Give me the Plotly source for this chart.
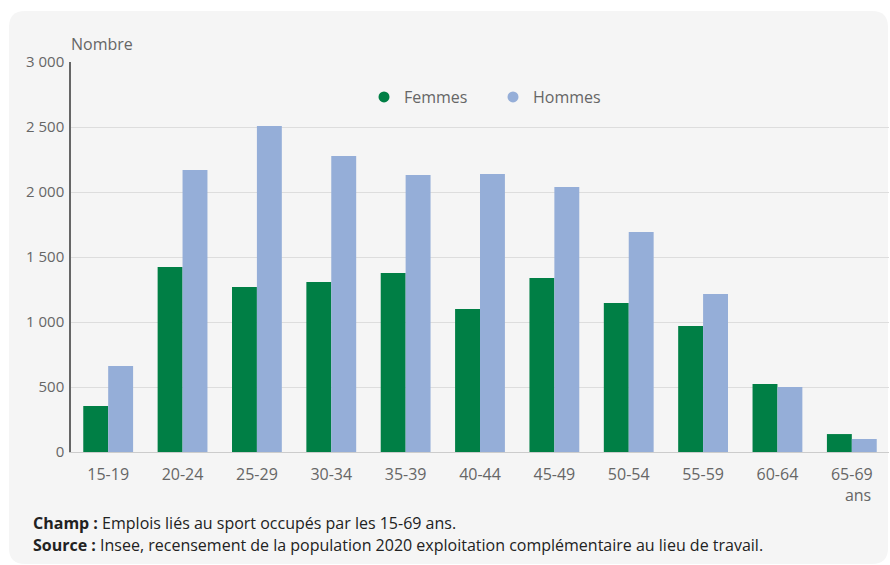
import plotly.graph_objects as go

categories = ["15-19", "20-24", "25-29", "30-34", "35-39", "40-44",
              "45-49", "50-54", "55-59", "60-64", "65-69"]
tick_labels = ["15-19", "20-24", "25-29", "30-34", "35-39", "40-44",
               "45-49", "50-54", "55-59", "60-64", "65-69<br>\u00a0\u00a0\u00a0ans"]
femmes = [354, 1423, 1269, 1308, 1377, 1100, 1338, 1146, 969, 523, 138]
hommes = [661, 2169, 2508, 2277, 2131, 2138, 2038, 1692, 1215, 500, 100]
y_ticks = [0, 500, 1000, 1500, 2000, 2500, 3000]

W, H = 890, 565
L, R, T, B = 71, 1, 62, 113
PW, PH = W - L - R, H - T - B

def px(x):
    return (x - L) / PW

def py(y):
    return (H - B - y) / PH

GREEN = "#007f45"
BLUE = "#95aed8"
FONT = "Open Sans"

fig = go.Figure()
fig.add_trace(go.Bar(x=categories, y=femmes, name="Femmes", marker_color=GREEN,
                     marker_line_width=0, showlegend=False))
fig.add_trace(go.Bar(x=categories, y=hommes, name="Hommes", marker_color=BLUE,
                     marker_line_width=0, showlegend=False))
fig.add_trace(go.Scatter(x=[None], y=[None], mode="markers", name="Femmes",
                         marker=dict(color=GREEN, size=11, symbol="circle")))
fig.add_trace(go.Scatter(x=[None], y=[None], mode="markers", name="Hommes",
                         marker=dict(color=BLUE, size=11, symbol="circle")))

# rounded grey panel
x0, x1, y0, y1 = px(9), px(888), py(564), py(11)
rx, ry = 16 / PW, 16 / PH
path = (f"M {x0+rx},{y1} L {x1-rx},{y1} Q {x1},{y1} {x1},{y1-ry} "
        f"L {x1},{y0+ry} Q {x1},{y0} {x1-rx},{y0} L {x0+rx},{y0} "
        f"Q {x0},{y0} {x0},{y0+ry} L {x0},{y1-ry} Q {x0},{y1} {x0+rx},{y1} Z")
fig.add_shape(type="path", path=path, xref="paper", yref="paper",
              fillcolor="#f5f5f5", line=dict(width=0), layer="below")

fig.add_annotation(text="Nombre", x=px(69), y=py(44), xref="paper", yref="paper",
                   xanchor="left", yanchor="middle", showarrow=False,
                   font=dict(family=FONT, size=16, color="#666666"))
fig.add_annotation(text="<b>Champ :</b> Emplois liés au sport occupés par les 15-69 ans.",
                   x=px(31), y=py(523), xref="paper", yref="paper",
                   xanchor="left", yanchor="middle", showarrow=False,
                   font=dict(family=FONT, size=16, color="#222222"))
fig.add_annotation(text="<b>Source :</b> Insee, recensement de la population 2020 exploitation complémentaire au lieu de travail.",
                   x=px(31), y=py(545), xref="paper", yref="paper",
                   xanchor="left", yanchor="middle", showarrow=False,
                   font=dict(family=FONT, size=16, color="#222222"))

fig.update_layout(
    width=W, height=H,
    margin=dict(l=L, r=R, t=T, b=B),
    paper_bgcolor="white", plot_bgcolor="rgba(0,0,0,0)",
    barmode="group", bargap=0.33, bargroupgap=0,
    separators=", ",
    font=dict(family=FONT, size=15, color="#666666"),
    legend=dict(orientation="h", x=px(364), y=py(97), xanchor="left",
                yanchor="middle", bgcolor="rgba(0,0,0,0)",
                font=dict(family=FONT, size=16, color="#666666"),
                itemwidth=30, entrywidth=84, entrywidthmode="pixels"),
    xaxis=dict(tickmode="array", tickvals=categories, ticktext=tick_labels,
               showgrid=False, showline=True, linecolor="#cccccc", linewidth=1,
               ticks="", ticklabelstandoff=8,
               tickfont=dict(family=FONT, size=16, color="#666666")),
    yaxis=dict(range=[0, 3000], tickvals=y_ticks, tickformat=",d",
               showgrid=True, gridcolor="#dddddd", gridwidth=1,
               showline=True, linecolor="#666666", linewidth=1.5,
               zeroline=False, ticks="", ticklen=0, ticklabelstandoff=2,
               tickfont=dict(family=FONT, size=15, color="#666666")),
)

fig.write_html("out.html", config={"displayModeBar": False},
               post_script="document.body.style.margin='0';")
